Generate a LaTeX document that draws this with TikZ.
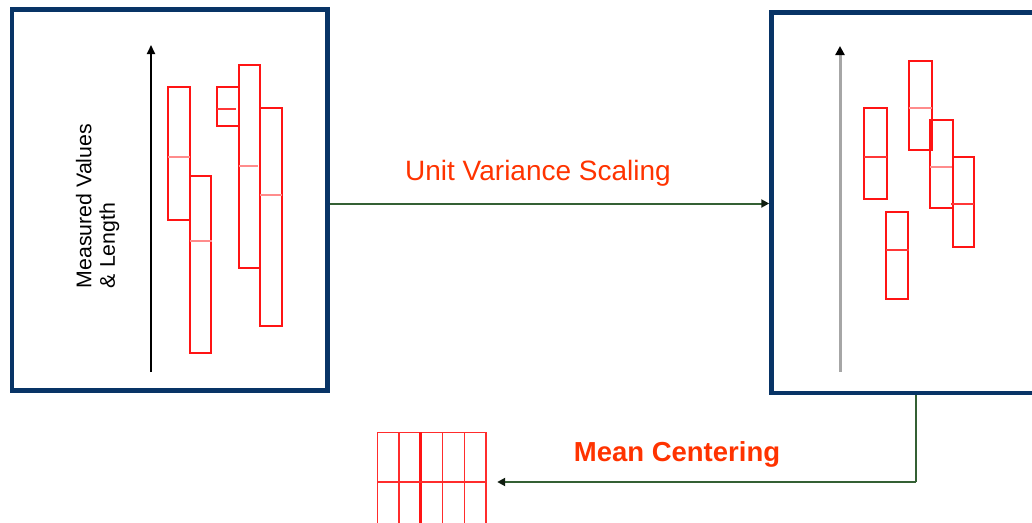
\documentclass[tikz,border=0pt]{standalone}
\usepackage{fontspec}
\setmainfont{Liberation Sans}
\usetikzlibrary{arrows.meta}
\definecolor{navy}{RGB}{8,52,102}
\definecolor{conngreen}{RGB}{52,96,52}
\definecolor{labelred}{RGB}{255,51,0}
\definecolor{boxred}{RGB}{255,20,20}
\definecolor{midred}{RGB}{255,140,140}
\tikzset{
  frame/.style={draw=navy, line width=4.5pt, inner sep=0pt},
  conn/.style={draw=conngreen, line width=2pt, -{Triangle[length=8pt,width=8pt,color=black!70!conngreen]}},
  plain/.style={draw=conngreen, line width=2pt},
  bar/.style={draw=boxred, line width=1.8pt},
  midline/.style={draw=midred, line width=1.8pt},
  midstrong/.style={draw=boxred!85!white, line width=1.8pt},
  gridline/.style={draw=boxred!90!white, line width=1.6pt},
  label/.style={text=labelred, font=\fontsize{28}{33}\selectfont},
  axisblack/.style={draw=black, line width=1.8pt, -{Triangle[length=9pt,width=8pt]}},
  axisgray/.style={draw=black!35, line width=3pt, -{Triangle[length=9pt,width=9pt,color=black]}}
}
\begin{document}
\begin{tikzpicture}[x=1pt,y=-1pt]
\useasboundingbox (0,0) rectangle (1032,522);
% frames
\node[frame, minimum width=315.5pt, minimum height=381pt] (left) at (169.75,200) {};
\node[frame, minimum width=300pt, minimum height=380.5pt] (right) at (921.5,202.75) {};
% left axis and label
\coordinate (la0) at (151,372);
\coordinate (la1) at (151,45);
\draw[axisblack] (la0) -- (la1);
\node[rotate=90, align=left, font=\fontsize{21.3}{23.5}\selectfont, inner sep=0pt] (ylab) at (97.5,206) {Measured Values\\\& Length};
% left bars
\draw[bar] (168.3,86.7) rectangle (189.7,219.7);
\draw[midline] (168.3,157.3) -- (189.7,157.3);
\draw[bar] (189.7,175.7) rectangle (210.7,352.7);
\draw[midline] (189.7,240.7) -- (212,240.7);
\draw[bar] (216.7,86.7) rectangle (238.7,126.3);
\draw[midstrong] (216.7,109.3) -- (236,109.3);
\draw[bar] (238.7,65) rectangle (260,268);
\draw[midline] (238.7,166.3) -- (258,166.3);
\draw[bar] (260,107.7) rectangle (281.7,325.7);
\draw[midline] (260,195) -- (281.7,195);
% right axis
\coordinate (ra0) at (840,371.7);
\coordinate (ra1) at (840,46);
\draw[axisgray] (ra0) -- (ra1);
% right bars
\draw[bar] (864,107.7) rectangle (886.7,198.7);
\draw[midstrong] (864,157.3) -- (886.7,157.3);
\draw[bar] (908.7,61) rectangle (931.7,150.3);
\draw[midline] (908.7,108.3) -- (931.7,108.3);
\draw[bar] (930.3,120.3) rectangle (952.7,208.3);
\draw[midline] (930.3,166.7) -- (952.7,166.7);
\draw[bar] (952.7,157) rectangle (974,246.7);
\draw[midstrong] (951,203.7) -- (974,203.7);
\draw[bar] (886.3,212.3) rectangle (907.7,299);
\draw[midstrong] (886.3,250.3) -- (909,250.3);
% top connector
\coordinate (ty) at (0,203.5);
\draw[conn] (left.east |- ty) -- (right.west |- ty);
\node[label] (uvs) at (538,173.5) {Unit Variance Scaling};
% grid (matrix of values)
\node[inner sep=0pt, minimum width=108.7pt, minimum height=100pt] (grid) at (431.65,482) {};
\draw[gridline] (377.3,432.3) rectangle (486,532);
\foreach \gx in {399,442.5,464.3} {\draw[gridline] (\gx,432.3) -- (\gx,532);}
\draw[draw=boxred, line width=2.6pt] (420.7,432.3) -- (420.7,532);
\draw[gridline] (377.3,481.7) -- (486,481.7);
% bottom connector
\coordinate (bx) at (916,0);
\coordinate (corner) at (916,482);
\draw[plain] (right.south -| bx) -- (corner);
\draw[conn, shorten >=11pt] (corner) -- (grid.east |- corner);
\node[label, font=\bfseries\fontsize{27.5}{32}\selectfont] (mc) at (677,454) {Mean Centering};
\end{tikzpicture}
\end{document}
